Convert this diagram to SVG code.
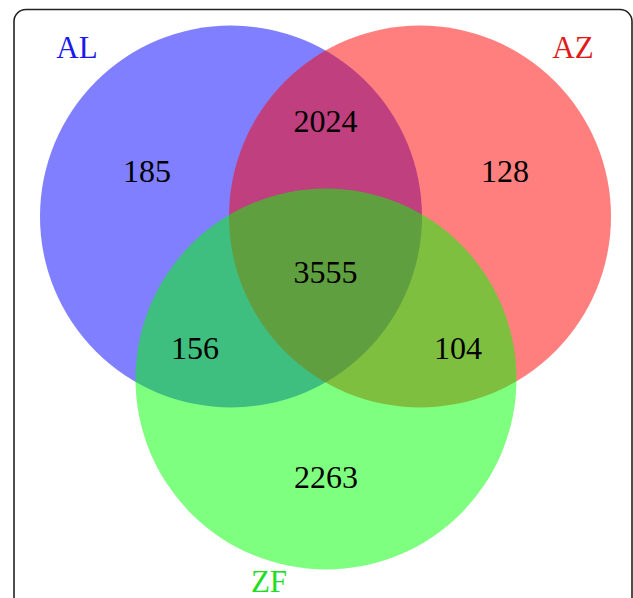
<svg xmlns="http://www.w3.org/2000/svg" width="633" height="598" viewBox="0 0 633 598">
  <style>
    .set { fill-opacity: 0.5; stroke: none; }
    .num { font-family: "Liberation Serif", "Times New Roman", serif; font-size: 32px; fill: #000; text-anchor: middle; }
    .lab { font-family: "Liberation Serif", "Times New Roman", serif; font-size: 31px; text-anchor: middle; }
  </style>
  <rect id="frame" x="14" y="9.5" width="618" height="630" rx="12" ry="12" fill="#fff" stroke="#222" stroke-width="1.6"/>
  <g id="AL">
    <circle class="set" cx="231" cy="216.5" r="191" fill="#0000ff"/>
    <text class="lab" x="77" y="58" fill="#1a1aee">AL</text>
  </g>
  <g id="AZ">
    <circle class="set" cx="420" cy="216.5" r="191" fill="#ff0000"/>
    <text class="lab" x="573" y="58" fill="#e01a1a">AZ</text>
  </g>
  <g id="ZF">
    <circle class="set" cx="326" cy="379" r="190.5" fill="#00ff00"/>
    <text class="lab" x="269" y="592" fill="#22dd22">ZF</text>
  </g>
  <g id="counts">
    <text class="num" x="147" y="182">185</text>
    <text class="num" x="505" y="182">128</text>
    <text class="num" x="325.5" y="132">2024</text>
    <text class="num" x="325.5" y="283">3555</text>
    <text class="num" x="195" y="359">156</text>
    <text class="num" x="458" y="359">104</text>
    <text class="num" x="326" y="488">2263</text>
  </g>
  <g id="connectors"/>
</svg>
